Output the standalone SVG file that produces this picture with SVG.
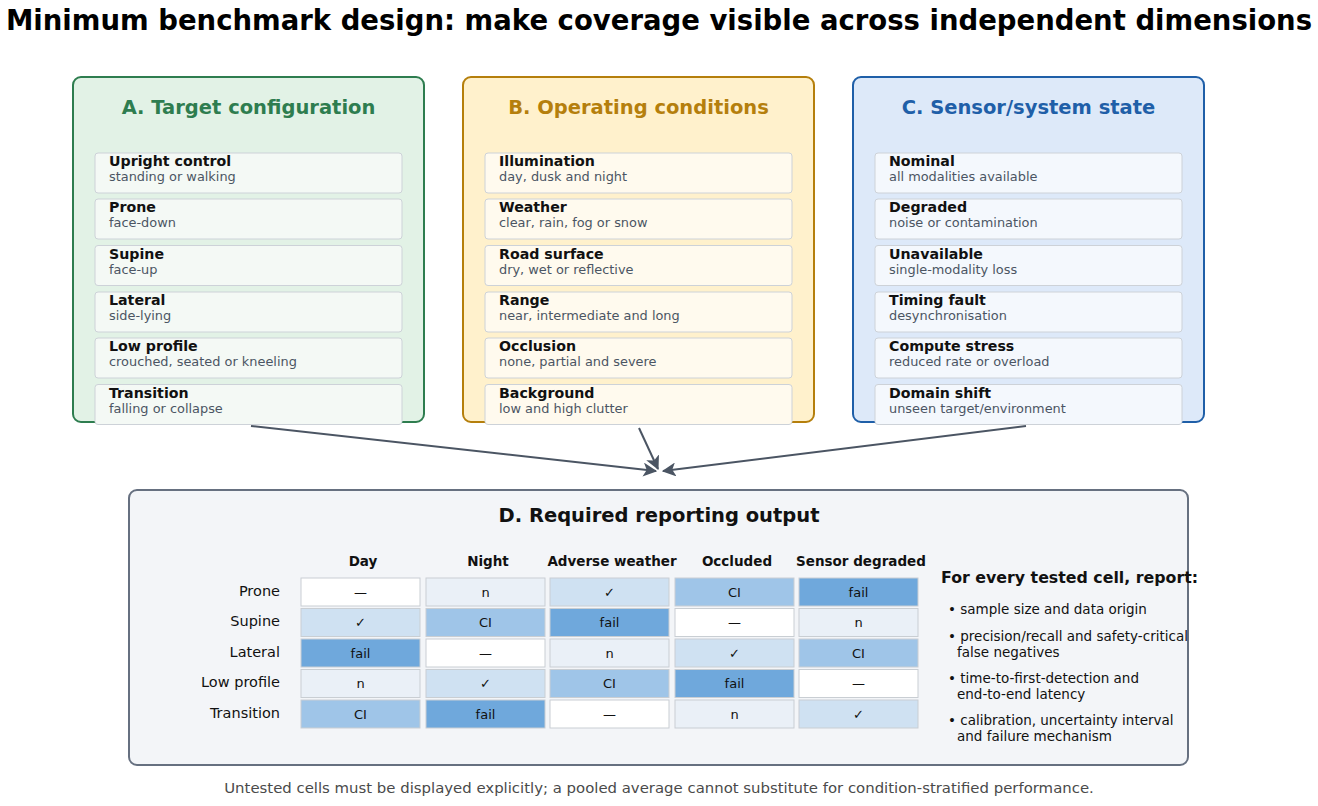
<svg xmlns="http://www.w3.org/2000/svg" width="1318" height="806" viewBox="0 0 1318 806">
<style>
text{font-family:"DejaVu Sans",Verdana,sans-serif}
.title{font-size:27.5px;font-weight:bold;fill:#000}
.ptitle{font-size:19.5px;font-weight:bold}
.lab{font-size:14.2px;font-weight:bold;fill:#111}
.sub{font-size:12.9px;fill:#4b5563}
.item{stroke:#cdd2d8;stroke-width:1}
.ia{fill:#f4f9f5}.ib{fill:#fffaee}.ic{fill:#f4f8fd}
.hdr{font-size:13.5px;font-weight:bold;fill:#111;text-anchor:middle}
.row{font-size:14.5px;fill:#111;text-anchor:end}
.cell{stroke:#c9ced3;stroke-width:1}
.ct{font-size:13px;fill:#111;text-anchor:middle}
.c0{fill:#ffffff}.c1{fill:#eaf0f7}.c2{fill:#cfe1f2}.c3{fill:#9fc5e8}.c4{fill:#6fa8dc}
.bul{font-size:13.5px;fill:#111}
.conn{stroke:#4b5563;stroke-width:2;fill:none}
</style>
<defs>
<marker id="arr" viewBox="0 0 12 12" refX="11" refY="6" markerWidth="14" markerHeight="14" markerUnits="userSpaceOnUse" orient="auto">
<path d="M0,0 L12,6 L0,12 L3,6 z" fill="#4b5563"/>
</marker>
</defs>
<rect width="1318" height="806" fill="#ffffff"/>
<text class="title" x="659" y="30" text-anchor="middle">Minimum benchmark design: make coverage visible across independent dimensions</text>

<g id="panelA">
<rect x="73" y="77" width="351" height="345" rx="8" fill="#e2f2e6" stroke="#2e7d4f" stroke-width="2"/>
<text class="ptitle" x="248.5" y="114" text-anchor="middle" fill="#2e7d4f">A. Target configuration</text>
<rect class="item ia" x="95" y="153" width="307" height="40" rx="3"/><text class="lab" x="109" y="166">Upright control</text><text class="sub" x="109" y="181">standing or walking</text>
<rect class="item ia" x="95" y="199" width="307" height="40" rx="3"/><text class="lab" x="109" y="212">Prone</text><text class="sub" x="109" y="227">face-down</text>
<rect class="item ia" x="95" y="245.5" width="307" height="40" rx="3"/><text class="lab" x="109" y="258.5">Supine</text><text class="sub" x="109" y="273.5">face-up</text>
<rect class="item ia" x="95" y="292" width="307" height="40" rx="3"/><text class="lab" x="109" y="305">Lateral</text><text class="sub" x="109" y="320">side-lying</text>
<rect class="item ia" x="95" y="338" width="307" height="40" rx="3"/><text class="lab" x="109" y="351">Low profile</text><text class="sub" x="109" y="366">crouched, seated or kneeling</text>
<rect class="item ia" x="95" y="384.5" width="307" height="40" rx="3"/><text class="lab" x="109" y="397.5">Transition</text><text class="sub" x="109" y="412.5">falling or collapse</text>
</g>

<g id="panelB">
<rect x="463" y="77" width="351" height="345" rx="8" fill="#fff1cc" stroke="#b57f0c" stroke-width="2"/>
<text class="ptitle" x="638.5" y="114" text-anchor="middle" fill="#b57f0c">B. Operating conditions</text>
<rect class="item ib" x="485" y="153" width="307" height="40" rx="3"/><text class="lab" x="499" y="166">Illumination</text><text class="sub" x="499" y="181">day, dusk and night</text>
<rect class="item ib" x="485" y="199" width="307" height="40" rx="3"/><text class="lab" x="499" y="212">Weather</text><text class="sub" x="499" y="227">clear, rain, fog or snow</text>
<rect class="item ib" x="485" y="245.5" width="307" height="40" rx="3"/><text class="lab" x="499" y="258.5">Road surface</text><text class="sub" x="499" y="273.5">dry, wet or reflective</text>
<rect class="item ib" x="485" y="292" width="307" height="40" rx="3"/><text class="lab" x="499" y="305">Range</text><text class="sub" x="499" y="320">near, intermediate and long</text>
<rect class="item ib" x="485" y="338" width="307" height="40" rx="3"/><text class="lab" x="499" y="351">Occlusion</text><text class="sub" x="499" y="366">none, partial and severe</text>
<rect class="item ib" x="485" y="384.5" width="307" height="40" rx="3"/><text class="lab" x="499" y="397.5">Background</text><text class="sub" x="499" y="412.5">low and high clutter</text>
</g>

<g id="panelC">
<rect x="853" y="77" width="351" height="345" rx="8" fill="#dde9f9" stroke="#1f5fa8" stroke-width="2"/>
<text class="ptitle" x="1028.5" y="114" text-anchor="middle" fill="#1f5fa8">C. Sensor/system state</text>
<rect class="item ic" x="875" y="153" width="307" height="40" rx="3"/><text class="lab" x="889" y="166">Nominal</text><text class="sub" x="889" y="181">all modalities available</text>
<rect class="item ic" x="875" y="199" width="307" height="40" rx="3"/><text class="lab" x="889" y="212">Degraded</text><text class="sub" x="889" y="227">noise or contamination</text>
<rect class="item ic" x="875" y="245.5" width="307" height="40" rx="3"/><text class="lab" x="889" y="258.5">Unavailable</text><text class="sub" x="889" y="273.5">single-modality loss</text>
<rect class="item ic" x="875" y="292" width="307" height="40" rx="3"/><text class="lab" x="889" y="305">Timing fault</text><text class="sub" x="889" y="320">desynchronisation</text>
<rect class="item ic" x="875" y="338" width="307" height="40" rx="3"/><text class="lab" x="889" y="351">Compute stress</text><text class="sub" x="889" y="366">reduced rate or overload</text>
<rect class="item ic" x="875" y="384.5" width="307" height="40" rx="3"/><text class="lab" x="889" y="397.5">Domain shift</text><text class="sub" x="889" y="412.5">unseen target/environment</text>
</g>

<g id="connectors">
<line class="conn" x1="251" y1="426" x2="656" y2="471" marker-end="url(#arr)"/>
<line class="conn" x1="639" y1="428" x2="658" y2="469" marker-end="url(#arr)"/>
<line class="conn" x1="1026" y1="426" x2="663" y2="471" marker-end="url(#arr)"/>
</g>

<g id="panelD">
<rect x="129" y="490" width="1059" height="275" rx="8" fill="#f3f5f8" stroke="#667080" stroke-width="2"/>
<text class="ptitle" x="659" y="522" text-anchor="middle" fill="#111" font-size="20.8">D. Required reporting output</text>
<text class="hdr" x="363" y="566">Day</text>
<text class="hdr" x="488" y="566">Night</text>
<text class="hdr" x="612" y="566">Adverse weather</text>
<text class="hdr" x="737" y="566">Occluded</text>
<text class="hdr" x="861" y="566">Sensor degraded</text>

<text class="row" x="280" y="596">Prone</text>
<text class="row" x="280" y="626">Supine</text>
<text class="row" x="280" y="657">Lateral</text>
<text class="row" x="280" y="687">Low profile</text>
<text class="row" x="280" y="718">Transition</text>

<rect class="cell c0" x="301" y="578" width="119" height="28"/><text class="ct" x="360.5" y="596.5">—</text>
<rect class="cell c1" x="426" y="578" width="119" height="28"/><text class="ct" x="485.5" y="596.5">n</text>
<rect class="cell c2" x="550" y="578" width="119" height="28"/><text class="ct" x="609.5" y="596.5">✓</text>
<rect class="cell c3" x="675" y="578" width="119" height="28"/><text class="ct" x="734.5" y="596.5">CI</text>
<rect class="cell c4" x="799" y="578" width="119" height="28"/><text class="ct" x="858.5" y="596.5">fail</text>

<rect class="cell c2" x="301" y="608.5" width="119" height="28"/><text class="ct" x="360.5" y="627">✓</text>
<rect class="cell c3" x="426" y="608.5" width="119" height="28"/><text class="ct" x="485.5" y="627">CI</text>
<rect class="cell c4" x="550" y="608.5" width="119" height="28"/><text class="ct" x="609.5" y="627">fail</text>
<rect class="cell c0" x="675" y="608.5" width="119" height="28"/><text class="ct" x="734.5" y="627">—</text>
<rect class="cell c1" x="799" y="608.5" width="119" height="28"/><text class="ct" x="858.5" y="627">n</text>

<rect class="cell c4" x="301" y="639" width="119" height="28"/><text class="ct" x="360.5" y="657.5">fail</text>
<rect class="cell c0" x="426" y="639" width="119" height="28"/><text class="ct" x="485.5" y="657.5">—</text>
<rect class="cell c1" x="550" y="639" width="119" height="28"/><text class="ct" x="609.5" y="657.5">n</text>
<rect class="cell c2" x="675" y="639" width="119" height="28"/><text class="ct" x="734.5" y="657.5">✓</text>
<rect class="cell c3" x="799" y="639" width="119" height="28"/><text class="ct" x="858.5" y="657.5">CI</text>

<rect class="cell c1" x="301" y="669.5" width="119" height="28"/><text class="ct" x="360.5" y="688">n</text>
<rect class="cell c2" x="426" y="669.5" width="119" height="28"/><text class="ct" x="485.5" y="688">✓</text>
<rect class="cell c3" x="550" y="669.5" width="119" height="28"/><text class="ct" x="609.5" y="688">CI</text>
<rect class="cell c4" x="675" y="669.5" width="119" height="28"/><text class="ct" x="734.5" y="688">fail</text>
<rect class="cell c0" x="799" y="669.5" width="119" height="28"/><text class="ct" x="858.5" y="688">—</text>

<rect class="cell c3" x="301" y="700" width="119" height="28"/><text class="ct" x="360.5" y="718.5">CI</text>
<rect class="cell c4" x="426" y="700" width="119" height="28"/><text class="ct" x="485.5" y="718.5">fail</text>
<rect class="cell c0" x="550" y="700" width="119" height="28"/><text class="ct" x="609.5" y="718.5">—</text>
<rect class="cell c1" x="675" y="700" width="119" height="28"/><text class="ct" x="734.5" y="718.5">n</text>
<rect class="cell c2" x="799" y="700" width="119" height="28"/><text class="ct" x="858.5" y="718.5">✓</text>

<text x="941" y="583" font-size="15.8" font-weight="bold" fill="#111">For every tested cell, report:</text>
<text class="bul" x="948" y="614">• sample size and data origin</text>
<text class="bul" x="948" y="641">• precision/recall and safety-critical</text>
<text class="bul" x="957" y="657">false negatives</text>
<text class="bul" x="948" y="683">• time-to-first-detection and</text>
<text class="bul" x="957" y="699">end-to-end latency</text>
<text class="bul" x="948" y="725">• calibration, uncertainty interval</text>
<text class="bul" x="957" y="741">and failure mechanism</text>
</g>

<text x="659" y="793" text-anchor="middle" font-size="14.9" fill="#4a4a4a">Untested cells must be displayed explicitly; a pooled average cannot substitute for condition-stratified performance.</text>
</svg>
